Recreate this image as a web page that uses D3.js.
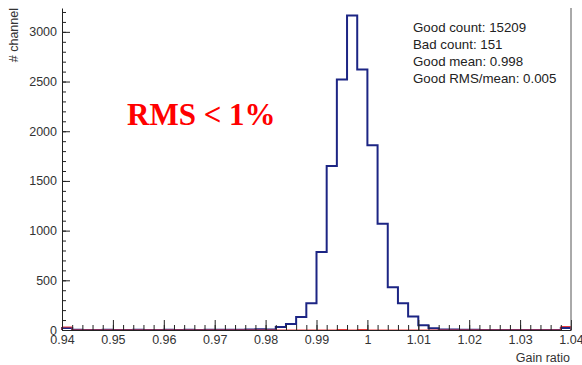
<!DOCTYPE html>
<html>
<head>
<meta charset="utf-8">
<script src="https://cdn.jsdelivr.net/npm/d3@7"></script>
<style>
  body { margin: 0; background: #fff; }
  svg text { font-family: "Liberation Sans", Arial, sans-serif; }
</style>
</head>
<body>
<div id="chart"></div>
<script>
// histogram: 50 bins of 0.002 from 0.94 to 1.04
var binLow = 0.94, binWidth = 0.002;
var goodCounts = [20, 2, 1, 1, 2, 1, 1, 2, 1, 1,
                  2, 1, 2, 1, 2, 2, 2, 3, 4, 8,
                  6, 30, 60, 130, 270, 785, 1650, 2520, 3165, 2620,
                  1860, 1070, 430, 270, 135, 48, 18, 6, 4, 2,
                  2, 1, 1, 1, 1, 1, 1, 1, 1, 20];
var badCounts = [30, 0, 0, 0, 0, 0, 0, 0, 0, 0,
                 0, 0, 0, 0, 0, 0, 0, 0, 0, 0,
                 0, 0, 0, 0, 0, 0, 0, 5, 0, 5,
                 0, 0, 0, 0, 0, 0, 0, 0, 0, 0,
                 0, 0, 0, 0, 0, 0, 0, 0, 0, 35];
var xTicks = [0.94, 0.95, 0.96, 0.97, 0.98, 0.99, 1, 1.01, 1.02, 1.03, 1.04];
var yTicks = [0, 500, 1000, 1500, 2000, 2500, 3000];
var statLines = ["Good count: 15209", "Bad count: 151", "Good mean: 0.998", "Good RMS/mean: 0.005"];

var W = 582, H = 365;
var svg = d3.select("#chart").append("svg")
  .attr("width", W).attr("height", H);

var x = d3.scaleLinear().domain([0.94, 1.04]).range([62, 571]);
var y = d3.scaleLinear().domain([0, 3240]).range([330, 8]);

// histogram outline
function histPoints(counts) {
  var pts = [[binLow, 0]];
  counts.forEach(function(c, i) { pts.push([binLow + i * binWidth, c]); });
  pts.push([binLow + counts.length * binWidth, counts[counts.length - 1]]);
  pts.push([binLow + counts.length * binWidth, 0]);
  return pts;
}
var line = d3.line()
  .x(function(d) { return x(d[0]); })
  .y(function(d) { return y(d[1]); })
  .curve(d3.curveStepAfter);

svg.append("path")
  .attr("d", line(histPoints(goodCounts)))
  .attr("fill", "none")
  .attr("stroke", "#1c2584")
  .attr("stroke-width", 2);

svg.append("path")
  .attr("d", line(histPoints(badCounts)))
  .attr("fill", "none")
  .attr("stroke", "#e8393a")
  .attr("stroke-width", 1);

// axes
var xMinor = d3.range(0, 51).map(function(i) { return binLow + i * binWidth; });
svg.append("g")
  .attr("transform", "translate(0,330)")
  .call(d3.axisBottom(x).tickValues(xMinor).tickSize(-5).tickSizeOuter(0).tickFormat(""))
  .call(function(g) { g.select(".domain").remove(); });

var xAxis = svg.append("g")
  .attr("transform", "translate(0,330)")
  .call(d3.axisBottom(x).tickValues(xTicks).tickSize(-10).tickSizeOuter(0)
    .tickPadding(5).tickFormat(d3.format("")));

var yMinor = d3.range(0, 3300, 100);
svg.append("g")
  .attr("transform", "translate(62,0)")
  .call(d3.axisLeft(y).tickValues(yMinor).tickSize(-4).tickSizeOuter(0).tickFormat(""))
  .call(function(g) { g.select(".domain").remove(); });

var yAxis = svg.append("g")
  .attr("transform", "translate(62,0)")
  .call(d3.axisLeft(y).tickValues(yTicks).tickSize(-8).tickSizeOuter(0)
    .tickPadding(5).tickFormat(d3.format("d")));

svg.selectAll(".tick line").attr("stroke", "#222");
svg.selectAll(".domain").attr("stroke", "#222");
svg.selectAll(".tick text").attr("fill", "#333").style("font-size", "12.5px")
  .style("font-family", "'Liberation Sans', Arial, sans-serif");

// right frame
svg.append("line")
  .attr("x1", x(1.04)).attr("x2", x(1.04))
  .attr("y1", y(3240)).attr("y2", y(0))
  .attr("stroke", "#555").attr("stroke-width", 1);

// axis titles
svg.append("text")
  .attr("x", 570).attr("y", 362)
  .attr("text-anchor", "end")
  .attr("fill", "#333")
  .style("font-size", "12.5px")
  .text("Gain ratio");

svg.append("text")
  .attr("transform", "translate(18,8) rotate(-90)")
  .attr("text-anchor", "end")
  .attr("fill", "#333")
  .style("font-size", "12.5px")
  .text("# channel");

// stats box text
svg.selectAll(".stat").data(statLines).enter().append("text")
  .attr("class", "stat")
  .attr("x", 413)
  .attr("y", function(d, i) { return 31.5 + i * 17; })
  .attr("fill", "#222")
  .style("font-size", "13.3px")
  .text(function(d) { return d; });

// annotation
svg.append("text")
  .attr("x", 127).attr("y", 125)
  .attr("fill", "#ff0000")
  .style("font-family", "'Liberation Serif', 'Times New Roman', serif")
  .style("font-weight", "bold")
  .style("font-size", "31px")
  .text("RMS < 1%");
</script>
</body>
</html>
